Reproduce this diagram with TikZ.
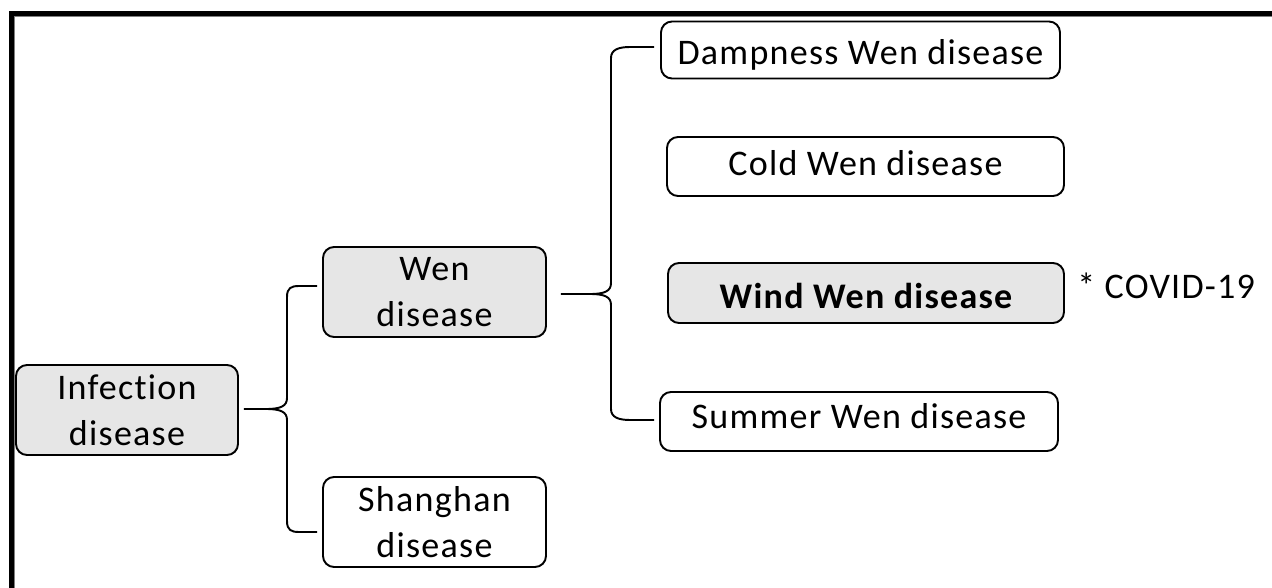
\documentclass[tikz,border=0pt]{standalone}
\usepackage{fontspec}
\setmainfont{Carlito}[Ligatures=NoCommon, LetterSpace=3.5]
\usetikzlibrary{calc}
\definecolor{boxgray}{RGB}{230,230,230}
\tikzset{
  box/.style={draw=black, line width=1.1pt, rounded corners=0.22cm, align=center,
    inner sep=0pt, font=\fontsize{20.5}{26}\selectfont},
  graybox/.style={box, fill=boxgray},
  whitebox/.style={box, fill=white},
  brace/.style={draw=black, line width=1.1pt},
}
\begin{document}
\begin{tikzpicture}[x=0.02cm, y=-0.02cm]
\useasboundingbox (0,0) rectangle (1272,588);
% frame
\fill[black] (9,11) rectangle (1272,16);
\fill[black] (9,11) rectangle (14,588);
\fill[gray] (14,16) rectangle (1272,17);
\fill[gray] (14,16) rectangle (15,588);
% nodes
\node[graybox, minimum width=222*0.02cm, minimum height=90*0.02cm] (inf) at (127,410) {Infection\\disease};
\node[graybox, minimum width=223*0.02cm, minimum height=90*0.02cm] (wen) at (434.5,292) {Wen\\disease};
\node[whitebox, minimum width=223*0.02cm, minimum height=90*0.02cm] (shang) at (434.5,522) {Shanghan\\disease};
\node[whitebox, minimum width=399*0.02cm, minimum height=57*0.02cm, text height=0.58cm, text depth=0pt] (damp) at (860.5,50) {Dampness Wen disease};
\node[whitebox, minimum width=397*0.02cm, minimum height=59*0.02cm, text height=0.38cm, text depth=0pt] (cold) at (865.5,166.5) {Cold Wen disease};
\node[graybox, minimum width=396*0.02cm, minimum height=60*0.02cm, text height=0.64cm, text depth=0pt] (wind) at (866,293) {\bfseries Wind Wen disease};
\node[whitebox, minimum width=398*0.02cm, minimum height=59*0.02cm, text height=0.26cm, text depth=0pt] (summer) at (859,421.5) {Summer Wen disease};
\node[font=\fontsize{20.5}{26}\selectfont, anchor=base west, inner sep=0pt] (covid) at (1077,298) {* COVID-19};
% brace from Infection disease
\draw[brace] ($(inf.east)+(5,-1)$) -- (266,409)
  .. controls (281,409) and (287,406) .. (287,398) -- (287,297)
  .. controls (287,288) and (291,286) .. (299,286) -- ($(wen.west)+(-5,-6)$);
\draw[brace] (266,409)
  .. controls (281,409) and (287,412) .. (287,420) -- (287,521)
  .. controls (287,530) and (291,532) .. (299,532) -- ($(shang.west)+(-5,10)$);
% brace from Wen disease
\draw[brace] ($(wen.east)+(14,2)$) -- (590,294)
  .. controls (605,294) and (611,291) .. (611,283) -- (611,58)
  .. controls (611,50) and (618,47) .. (630,47) -- ($(damp.west)+(-6,-3)$);
\draw[brace] (590,294)
  .. controls (605,294) and (611,297) .. (611,305) -- (611,409)
  .. controls (611,417) and (618,420) .. (630,420) -- ($(summer.west)+(-5,-1.5)$);
\end{tikzpicture}
\end{document}
